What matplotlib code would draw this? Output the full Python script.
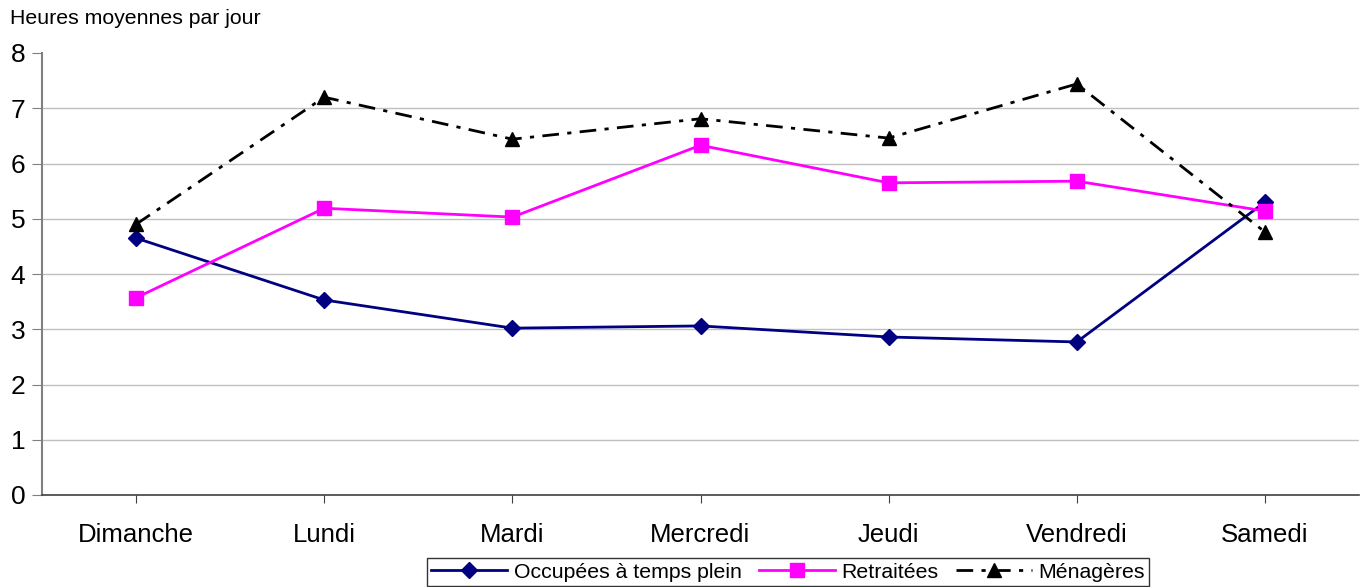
import matplotlib
matplotlib.use("Agg")
import matplotlib.pyplot as plt

plt.rcParams["font.family"] = ["Liberation Sans", "DejaVu Sans"]

jours = ["Dimanche", "Lundi", "Mardi", "Mercredi", "Jeudi", "Vendredi", "Samedi"]
occupees = [4.65, 3.53, 3.02, 3.06, 2.86, 2.77, 5.30]
retraitees = [3.57, 5.19, 5.03, 6.33, 5.65, 5.68, 5.14]
menageres = [4.90, 7.20, 6.44, 6.81, 6.46, 7.44, 4.76]

fig = plt.figure(figsize=(13.72, 5.87), dpi=100)
ax = fig.add_axes([42 / 1372, 1 - 495 / 587, 1317 / 1372, 442 / 587])

x = range(len(jours))
ax.plot(x, occupees, color="#000080", lw=2, marker="D", ms=8, label="Occupées à temps plein", zorder=3)
ax.plot(x, retraitees, color="#FF00FF", lw=2, marker="s", ms=10, label="Retraitées", zorder=3)
ax.plot(x, menageres, color="black", lw=2, ls=(0, (6, 3, 1.5, 3)), marker="^", ms=10,
        label="Ménagères", zorder=3)

ax.set_xlim(-0.5, len(jours) - 0.5)
ax.set_ylim(0, 8)
ax.set_yticks(range(9))
ax.set_xticks(list(x))
ax.set_xticklabels(jours, fontsize=18.5)
ax.tick_params(axis="y", labelsize=19, direction="out", length=7, color="#808080", pad=5)
ax.tick_params(axis="x", direction="out", length=6, pad=14, color="#404040")
for v in range(1, 8):
    ax.axhline(v, color="#c0c0c0", lw=1, zorder=1)
for s in ["top", "right"]:
    ax.spines[s].set_visible(False)
ax.spines["left"].set_color("#808080")
ax.spines["left"].set_linewidth(1.5)
ax.spines["bottom"].set_color("#404040")
ax.spines["bottom"].set_linewidth(1.2)

fig.text(10 / 1372, 1 - 18 / 587, "Heures moyennes par jour", fontsize=15.3, va="center", ha="left")

leg = fig.legend(loc="lower center", bbox_to_anchor=(788 / 1372, 0.0), ncol=3, fontsize=15.3,
                 frameon=True, fancybox=False, edgecolor="black", handlelength=3.6,
                 borderpad=0.2, columnspacing=0.8, handletextpad=0.3, borderaxespad=0.05)
leg.get_frame().set_linewidth(1)

fig.savefig("out.png", dpi=100)
